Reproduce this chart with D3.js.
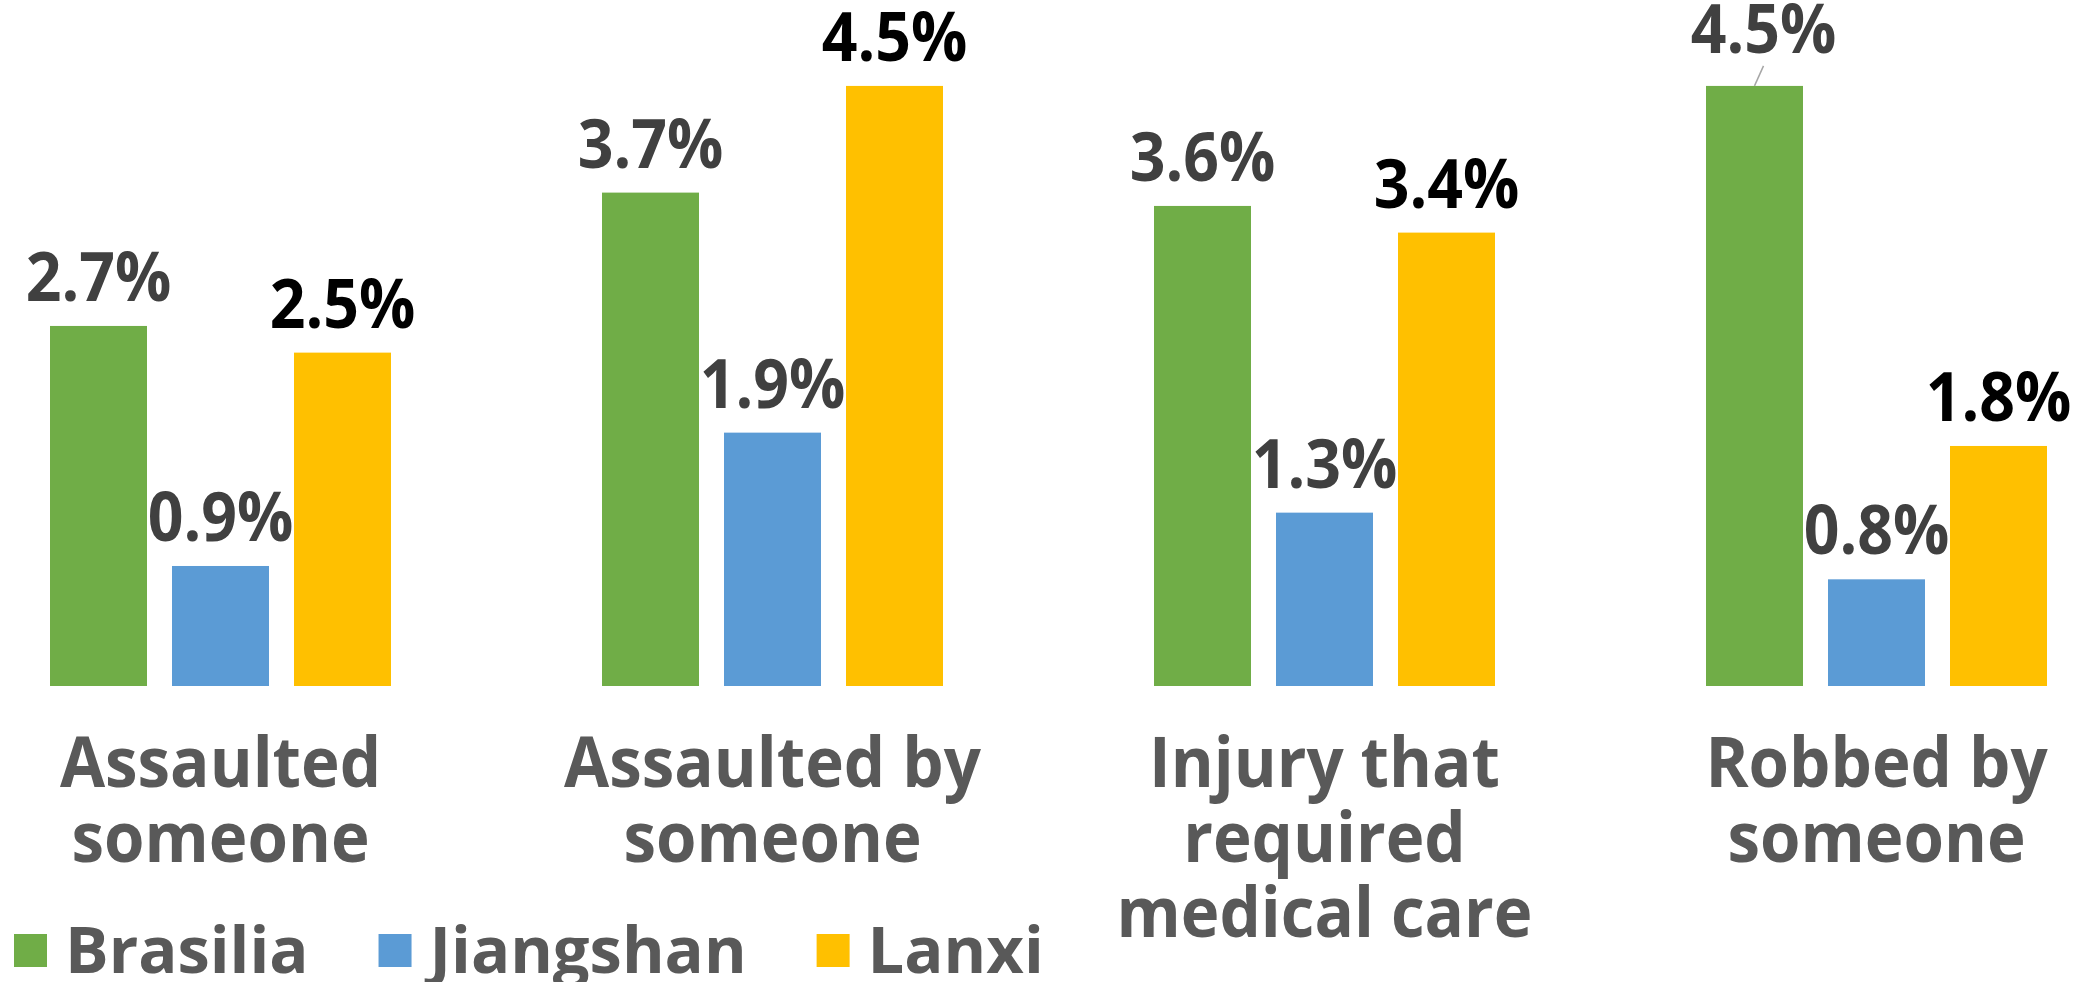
<!DOCTYPE html>
<html>
<head>
<meta charset="utf-8">
<script src="https://cdn.jsdelivr.net/npm/d3@7"></script>
<style>
  html, body { margin: 0; padding: 0; background: #fff; }
  svg { display: block; font-family: "Open Sans", "Noto Sans", sans-serif; font-weight: 700; }
</style>
</head>
<body>
<div class="wrapper"></div>
<script>
const width = 2098;
const height = 982;

// data (percent)
const categories = ["Assaulted someone", "Assaulted by someone", "Injury that required medical care", "Robbed by someone"];
const series = ["Brasilia", "Jiangshan", "Lanxi"];
const brasilia = [2.7, 3.7, 3.6, 4.5];
const jiangshan = [0.9, 1.9, 1.3, 0.8];
const lanxi = [2.5, 4.5, 3.4, 1.8];

const colors = ["#70AD47", "#5B9BD5", "#FFC000"];
const labelColors = ["#404040", "#404040", "#000000"];
const squeeze = 0.92; // value label glyphs are a little narrower in the source
const catSqueeze = 0.935;

const values = [brasilia, jiangshan, lanxi];
const rows = categories.map((cat, i) => ({
  cat,
  bars: series.map((s, j) => ({ cat, series: s, j, value: values[j][i] }))
}));

const svg = d3
  .select(".wrapper")
  .append("svg")
  .attr("width", width)
  .attr("height", height)
  .attr("viewBox", [0, 0, width, height]);

const x0 = d3.scaleBand().domain(categories).range([-55.5, 2152.5]).padding(0);
const x1 = d3.scaleBand().domain(series).range([-170.5, 170.5]).paddingInner(25 / 122);
const y = d3.scaleLinear().domain([0, 5]).range([686, 686 - 5 * 133.35]);

const groups = svg
  .append("g")
  .selectAll("g")
  .data(rows)
  .join("g")
  .attr("transform", (d) => `translate(${x0(d.cat) + x0.bandwidth() / 2},0)`);

groups
  .selectAll("rect")
  .data((d) => d.bars)
  .join("rect")
  .attr("x", (d) => x1(d.series))
  .attr("y", (d) => y(d.value))
  .attr("width", x1.bandwidth())
  .attr("height", (d) => y(0) - y(d.value))
  .attr("fill", (d) => colors[d.j]);

// the one label that was nudged by hand, with its leader line
const nudged = { "Robbed by someone|Brasilia": [9, -8] };

groups
  .selectAll("g.lab")
  .data((d) => d.bars)
  .join("g")
  .attr("class", "lab")
  .each(function (d) {
    const g = d3.select(this);
    const cx = x1(d.series) + x1.bandwidth() / 2;
    const base = y(d.value) - 25;
    const n = nudged[`${d.cat}|${d.series}`] || [0, 0];
    g.append("text")
      .attr("transform", `translate(${cx + n[0]},${base + n[1]}) scale(${squeeze},1)`)
      .attr("text-anchor", "middle")
      .attr("font-size", 68)
      .attr("fill", labelColors[d.j])
      .text(d3.format(".1f")(d.value) + "%");
    if (n[0] || n[1]) {
      g.append("line")
        .attr("x1", cx + n[0])
        .attr("y1", base + n[1] + 13)
        .attr("x2", cx)
        .attr("y2", y(d.value))
        .attr("stroke", "#A6A6A6")
        .attr("stroke-width", 1.5);
    }
  });

// category labels, word-wrapped like Excel does
const maxLine = 500;
groups.each(function (d) {
  const g = d3.select(this);
  const words = d.cat.split(" ");
  const t = g
    .append("text")
    .attr("text-anchor", "middle")
    .attr("font-size", 70)
    .attr("fill", "#595959")
    .attr("transform", `translate(0,787) scale(${catSqueeze},1)`);
  let lines = [];
  let line = [];
  const probe = t.append("tspan");
  for (const w of words) {
    const next = line.concat(w).join(" ");
    probe.text(next);
    if (line.length && probe.node().getComputedTextLength() * catSqueeze > maxLine) {
      lines.push(line.join(" "));
      line = [w];
    } else {
      line.push(w);
    }
  }
  lines.push(line.join(" "));
  probe.remove();
  t.selectAll("tspan")
    .data(lines)
    .join("tspan")
    .attr("x", 0)
    .attr("y", (l, i) => i * 75)
    .text((l) => l);
});

// legend
const legend = svg.append("g").attr("transform", "translate(14,0)");
let lx = 0;
series.forEach((s, j) => {
  legend
    .append("rect")
    .attr("x", lx)
    .attr("y", 934)
    .attr("width", 33)
    .attr("height", 33)
    .attr("fill", colors[j]);
  const t = legend
    .append("text")
    .attr("x", lx + 51)
    .attr("y", 973)
    .attr("font-size", 65)
    .attr("fill", "#595959")
    .text(s);
  lx += 51 + t.node().getComputedTextLength() + 70;
});
</script>
</body>
</html>
